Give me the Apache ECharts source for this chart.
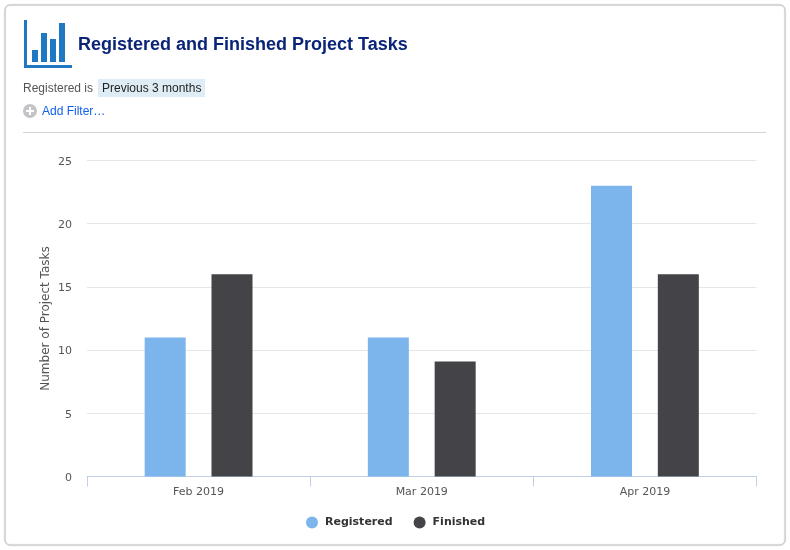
<!DOCTYPE html>
<html>
<head>
<meta charset="utf-8">
<style>html,body{margin:0;padding:0;background:#fff}#c{width:790px;height:550px}</style>
<script src="https://cdn.jsdelivr.net/npm/echarts@6/dist/echarts.min.js"></script>
</head>
<body>
<div id="c"></div>
<script>
const categories = ['Feb 2019', 'Mar 2019', 'Apr 2019'];
const registered = [11, 11, 23];
const finished = [16, 9.1, 16];
const titleText = 'Registered and Finished Project Tasks';
const yAxisName = 'Number of Project Tasks';

const headFont = '"Liberation Sans", Arial, sans-serif';
const chartFont = '"DejaVu Sans", Verdana, sans-serif';
const chart = echarts.init(document.getElementById('c'), null, {renderer: 'canvas'});

function rect(x, y, w, h, fill) {
  return {type: 'rect', silent: true, shape: {x, y, width: w, height: h}, style: {fill}};
}
function txt(x, y, text, font, fill, extra) {
  return {type: 'text', silent: true, x, y, style: Object.assign({text, font, fill, textVerticalAlign: 'middle'}, extra || {})};
}

chart.setOption({
  animation: false,
  backgroundColor: '#ffffff',
  title: {
    text: titleText, left: 78, top: 35, padding: 0,
    textStyle: {fontFamily: headFont, fontSize: 18, fontWeight: 'bold', color: '#0a2478', lineHeight: 20}
  },
  legend: {
    top: 516.5, left: 306, itemGap: 21, itemWidth: 12, itemHeight: 12, icon: 'circle', padding: 0,
    textStyle: {fontFamily: chartFont, fontSize: 11, fontWeight: 'bold', color: '#333333', padding: [0, 0, 0, 2]},
    data: ['Registered', 'Finished']
  },
  grid: {left: 87, right: 33.5, top: 160.5, bottom: 73.5, containLabel: false},
  xAxis: {
    type: 'category', data: categories,
    axisLine: {lineStyle: {color: '#c0d0e8', width: 1}},
    axisTick: {show: true, length: 10, lineStyle: {color: '#c0d0e8'}, alignWithLabel: false},
    axisLabel: {fontFamily: chartFont, fontSize: 11, color: '#555555', margin: 10}
  },
  yAxis: {
    type: 'value', min: 0, max: 25, interval: 5,
    name: yAxisName, nameLocation: 'middle', nameGap: 35, nameRotate: 90, nameMoveOverlap: false,
    nameTextStyle: {fontFamily: chartFont, fontSize: 12, color: '#555555'},
    axisLine: {show: false}, axisTick: {show: false},
    axisLabel: {
      margin: 15,
      formatter: '{v|{value}}',
      rich: {v: {fontFamily: chartFont, fontSize: 11, color: '#555555', padding: [3, 0, 0, 0]}}
    },
    splitLine: {lineStyle: {color: '#e6e6e6', width: 1}}
  },
  series: [
    {name: 'Registered', type: 'bar', data: registered, barWidth: 41, barGap: '63%', itemStyle: {color: '#7cb5ec'}},
    {name: 'Finished', type: 'bar', data: finished, barWidth: 41, itemStyle: {color: '#434348'}}
  ],
  graphic: {elements: [
    {type: 'rect', silent: true, z: -10, zlevel: 0,
     shape: {x: 5, y: 5, width: 780, height: 540, r: 5},
     style: {fill: '#ffffff', stroke: '#c8c8c8', lineWidth: 1, shadowColor: 'rgba(0,0,0,0.2)', shadowBlur: 1.5, shadowOffsetY: 0}},
    rect(24, 20, 3, 48, '#1f78c1'),
    rect(24, 65, 48, 3, '#1f78c1'),
    rect(32, 50, 6, 12, '#1f78c1'),
    rect(41, 33, 6, 29, '#1f78c1'),
    rect(50, 39, 6, 23, '#1f78c1'),
    rect(59, 23, 6, 39, '#1f78c1'),
    txt(23, 88.5, 'Registered is', '12px ' + headFont, '#555555'),
    rect(98, 79, 107, 18, '#deedf5'),
    txt(102, 88.5, 'Previous 3 months', '12px ' + headFont, '#222222'),
    {type: 'circle', silent: true, shape: {cx: 30, cy: 111, r: 7}, style: {fill: '#c4c4c8'}},
    rect(26, 110, 8, 2, '#ffffff'),
    rect(29, 107, 2, 8, '#ffffff'),
    txt(42, 111.5, 'Add Filter…', '12px ' + headFont, '#1060f0'),
    rect(23, 132, 743, 1, '#d4d4d4')
  ]}
});
</script>
</body>
</html>
